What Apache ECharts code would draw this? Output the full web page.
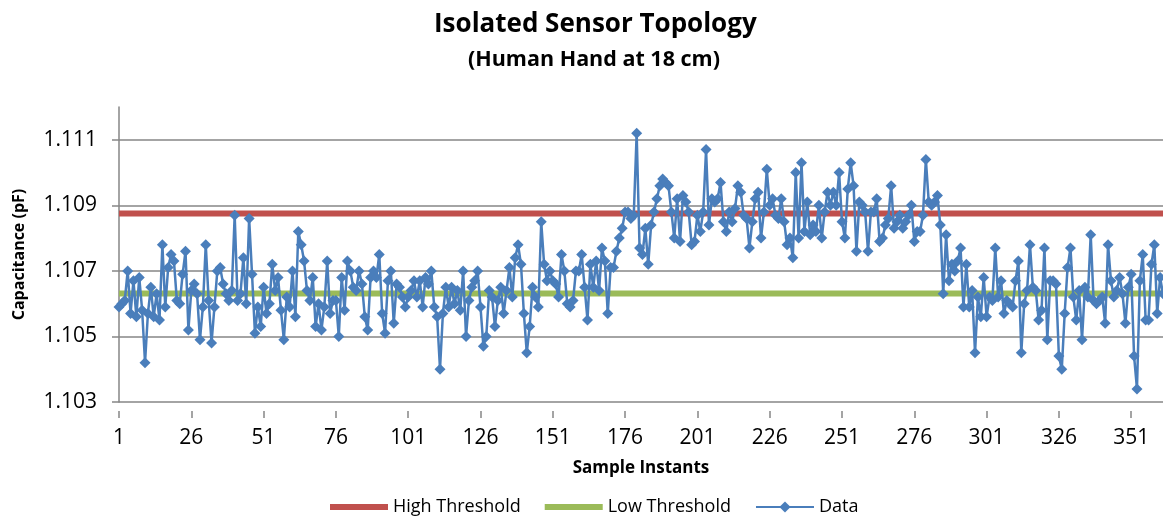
<!DOCTYPE html>
<html>
<head>
<meta charset="utf-8">
<script src="https://cdn.jsdelivr.net/npm/echarts@6/dist/echarts.min.js"></script>
<style>
html,body{margin:0;padding:0;background:#fff;}
#chart{width:1163px;height:517px;}
</style>
</head>
<body>
<div id="chart"></div>
<script>
// ---- data ----
const titleText = 'Isolated Sensor Topology';
const subtitleText = '(Human Hand at 18 cm)';
const yTicks = [1.103, 1.105, 1.107, 1.109, 1.111];
const highThreshold = 1.10875;
const lowThreshold = 1.10631;
const capacitance = [
1.1059,1.1060,1.1061,1.1070,1.1057,1.1067,1.1056,1.1068,1.1058,1.1042,
1.1057,1.1065,1.1056,1.1063,1.1055,1.1078,1.1059,1.1071,1.1075,1.1073,
1.1061,1.1060,1.1069,1.1076,1.1052,1.1064,1.1066,1.1063,1.1049,1.1059,
1.1078,1.1061,1.1048,1.1059,1.1070,1.1071,1.1066,1.1063,1.1061,1.1064,
1.1087,1.1061,1.1063,1.1074,1.1060,1.1086,1.1069,1.1051,1.1059,1.1053,
1.1065,1.1057,1.1060,1.1072,1.1064,1.1068,1.1058,1.1049,1.1062,1.1059,
1.1070,1.1056,1.1082,1.1078,1.1073,1.1064,1.1061,1.1068,1.1053,1.1060,
1.1052,1.1059,1.1073,1.1057,1.1061,1.1061,1.1050,1.1068,1.1058,1.1073,
1.1070,1.1065,1.1064,1.1070,1.1066,1.1056,1.1052,1.1068,1.1070,1.1068,
1.1075,1.1057,1.1051,1.1067,1.1070,1.1054,1.1066,1.1065,1.1062,1.1059,
1.1062,1.1064,1.1067,1.1062,1.1067,1.1059,1.1068,1.1066,1.1070,1.1059,
1.1056,1.1040,1.1057,1.1065,1.1059,1.1065,1.1060,1.1064,1.1058,1.1070,
1.1050,1.1061,1.1065,1.1067,1.1070,1.1059,1.1047,1.1050,1.1064,1.1062,
1.1053,1.1061,1.1065,1.1057,1.1064,1.1071,1.1062,1.1074,1.1078,1.1072,
1.1057,1.1045,1.1053,1.1065,1.1062,1.1059,1.1085,1.1072,1.1067,1.1070,
1.1067,1.1066,1.1062,1.1075,1.1070,1.1060,1.1059,1.1061,1.1070,1.1070,
1.1075,1.1065,1.1055,1.1072,1.1065,1.1073,1.1064,1.1077,1.1073,1.1057,
1.1071,1.1071,1.1076,1.1080,1.1083,1.1088,1.1088,1.1086,1.1087,1.1112,
1.1077,1.1075,1.1083,1.1072,1.1084,1.1088,1.1092,1.1096,1.1098,1.1097,
1.1096,1.1088,1.1080,1.1092,1.1079,1.1093,1.1091,1.1088,1.1078,1.1079,
1.1087,1.1082,1.1088,1.1107,1.1084,1.1092,1.1091,1.1092,1.1097,1.1085,
1.1082,1.1088,1.1085,1.1089,1.1096,1.1094,1.1087,1.1086,1.1077,1.1085,
1.1092,1.1094,1.1080,1.1088,1.1101,1.1090,1.1092,1.1087,1.1086,1.1092,
1.1085,1.1078,1.1080,1.1074,1.1100,1.1080,1.1103,1.1082,1.1091,1.1081,
1.1084,1.1082,1.1090,1.1080,1.1088,1.1094,1.1090,1.1094,1.1090,1.1100,
1.1085,1.1080,1.1095,1.1103,1.1096,1.1076,1.1091,1.1090,1.1088,1.1076,
1.1088,1.1088,1.1092,1.1079,1.1080,1.1084,1.1086,1.1096,1.1083,1.1085,
1.1087,1.1083,1.1085,1.1087,1.1090,1.1079,1.1082,1.1082,1.1087,1.1104,
1.1091,1.1090,1.1091,1.1093,1.1084,1.1063,1.1081,1.1067,1.1072,1.1070,
1.1073,1.1077,1.1059,1.1072,1.1059,1.1064,1.1045,1.1062,1.1056,1.1068,
1.1056,1.1062,1.1061,1.1077,1.1062,1.1067,1.1057,1.1061,1.1060,1.1059,
1.1067,1.1073,1.1045,1.1060,1.1064,1.1078,1.1065,1.1064,1.1055,1.1058,
1.1077,1.1049,1.1067,1.1067,1.1066,1.1044,1.1040,1.1057,1.1071,1.1077,
1.1062,1.1055,1.1064,1.1049,1.1065,1.1062,1.1081,1.1061,1.1060,1.1061,
1.1062,1.1054,1.1078,1.1067,1.1062,1.1064,1.1068,1.1063,1.1054,1.1065,
1.1069,1.1044,1.1034,1.1067,1.1075,1.1055,1.1055,1.1072,1.1078,1.1057,
1.1068,1.1063
];
const sampleInstants = capacitance.map((_, i) => String(i + 1));
const highSeries = sampleInstants.map(() => highThreshold);
const lowSeries = sampleInstants.map(() => lowThreshold);

const FONT = 'Open Sans';
const barIcon = 'path://M0,0H58V6H0Z';
const chart = echarts.init(document.getElementById('chart'), null, {renderer: 'canvas'});
chart.setOption({
  animation: false,
  backgroundColor: '#ffffff',
  textStyle: {fontFamily: FONT},
  title: [
    {text: titleText, left: 429, top: 7,
     textStyle: {fontFamily: FONT, fontWeight: 'bold', fontSize: 26, color: '#000'}},
    {text: subtitleText, left: 463, top: 44,
     textStyle: {fontFamily: FONT, fontWeight: 'bold', fontSize: 21.5, color: '#000'}}
  ],
  legend: {
    top: 493, left: 325,
    itemWidth: 58, itemHeight: 14, itemGap: 24,
    textStyle: {fontFamily: FONT, fontSize: 18, color: '#000'},
    data: [
      {name: 'High Threshold', icon: barIcon},
      {name: 'Low Threshold', icon: barIcon},
      {name: 'Data'}
    ]
  },
  grid: {left: 119, right: 0, top: 107, bottom: 115, containLabel: false},
  xAxis: {
    type: 'category',
    data: sampleInstants,
    boundaryGap: false,
    offset: 9,
    name: 'Sample Instants',
    nameLocation: 'middle',
    nameGap: 49,
    nameMoveOverlap: false,
    nameTextStyle: {fontFamily: FONT, fontWeight: 'bold', fontSize: 17, color: '#000'},
    axisLine: {show: false, lineStyle: {color: '#868686', width: 1.5}},
    axisTick: {show: true, interval: 24, length: 7, lineStyle: {color: '#868686', width: 1.5}},
    axisLabel: {interval: 24, margin: 17, fontFamily: FONT, fontSize: 21, color: '#000'},
    splitLine: {show: false}
  },
  yAxis: {
    type: 'value',
    min: yTicks[0], max: 1.112, interval: 0.002,
    name: 'Capacitance (pF)',
    nameLocation: 'middle',
    nameGap: 92,
    nameTextStyle: {fontFamily: FONT, fontWeight: 'bold', fontSize: 16, color: '#000'},
    axisLine: {show: true, lineStyle: {color: '#868686', width: 1.5}},
    axisTick: {show: true, length: 7, lineStyle: {color: '#868686', width: 1.5}},
    axisLabel: {margin: 22, fontFamily: FONT, fontSize: 21, color: '#000', showMaxLabel: false,
      formatter: v => v.toFixed(3)},
    splitLine: {show: true, showMaxLine: false, lineStyle: {color: '#868686', width: 1.5}}
  },
  series: [
    {name: 'High Threshold', type: 'line', data: highSeries, symbol: 'none', silent: true,
     lineStyle: {color: '#C0504D', width: 6}, itemStyle: {color: '#C0504D'}, z: 2},
    {name: 'Low Threshold', type: 'line', data: lowSeries, symbol: 'none', silent: true,
     lineStyle: {color: '#9BBB59', width: 6}, itemStyle: {color: '#9BBB59'}, z: 2},
    {name: 'Data', type: 'line', data: capacitance, symbol: 'diamond', symbolSize: 11,
     showAllSymbol: true,
     lineStyle: {color: '#4A7EBB', width: 2.5}, itemStyle: {color: '#4A7EBB'}, z: 3}
  ]
});
</script>
</body>
</html>
